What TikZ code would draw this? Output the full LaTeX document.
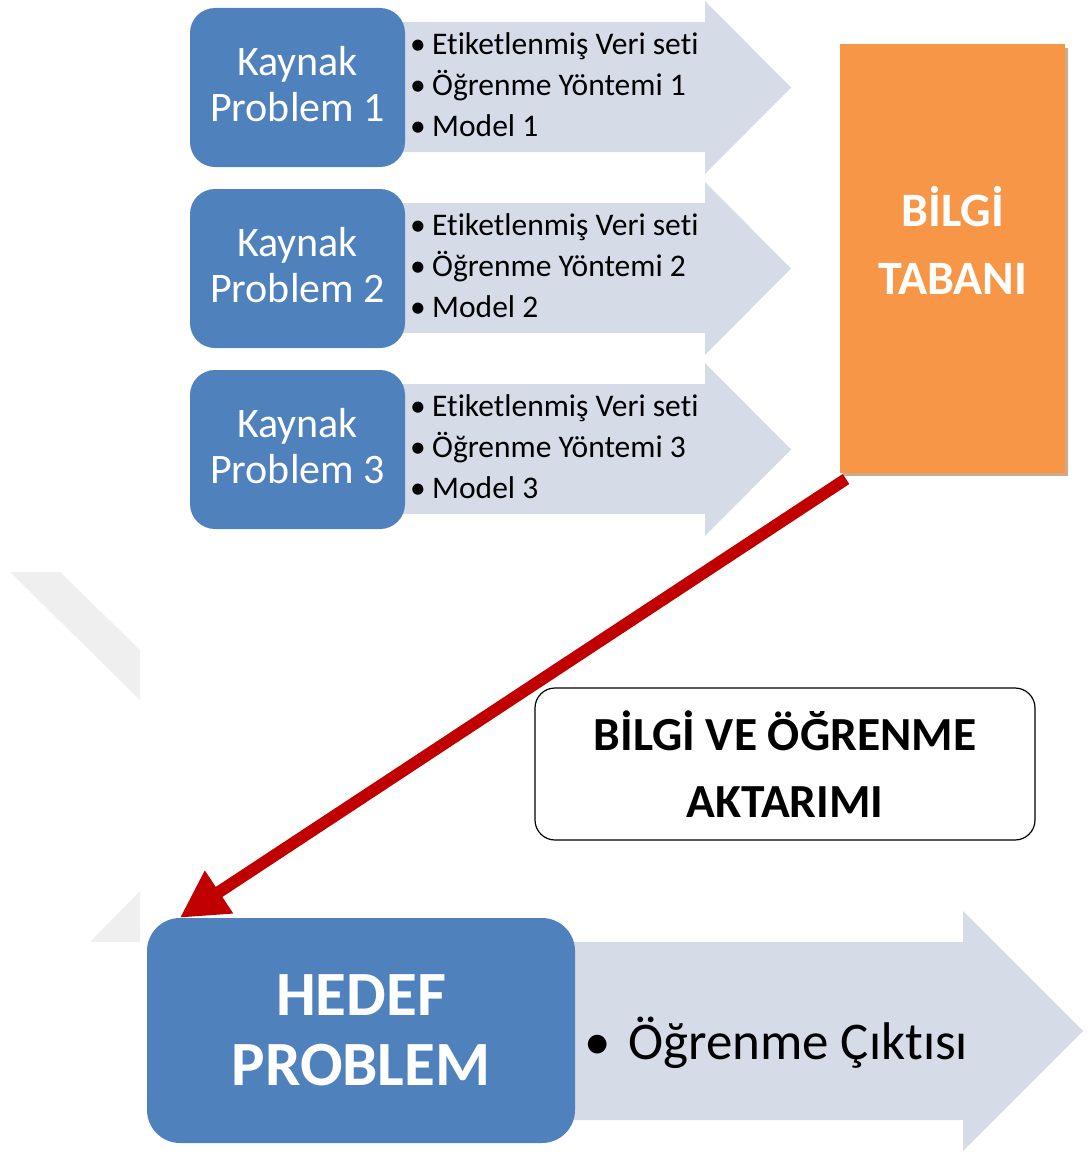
\documentclass[tikz,border=0pt]{standalone}
\usepackage{fontspec}
\setmainfont{Carlito}[Ligatures={NoCommon}]
\usetikzlibrary{arrows.meta,calc}
\definecolor{boxblue}{HTML}{4F81BD}
\definecolor{arrowfill}{HTML}{D5DCE8}
\definecolor{kborange}{HTML}{F79646}
\definecolor{kbshadow}{HTML}{CFAA8A}
\definecolor{tred}{HTML}{C00000}
\definecolor{wmgray}{HTML}{EFEFEF}
\begin{document}
\begin{tikzpicture}[x=1pt,y=-1pt,
  srcbox/.style={fill=boxblue, rounded corners=25pt, minimum width=215pt, minimum height=159pt, inner sep=0pt},
  srctext/.style={inner sep=0pt, text=white, align=center, font=\fontsize{42}{46}\selectfont},
  bullets/.style={anchor=west, inner sep=0pt, align=left, font=\fontsize{31.5}{41}\selectfont},
  flow/.style={fill=arrowfill},
  kbbox/.style={fill=kborange, minimum width=225pt, minimum height=428pt, inner sep=0pt},
  kbtext/.style={text=white, align=center, font=\fontsize{48}{68}\selectfont\bfseries},
  transfer/.style={draw=black, line width=1.2pt, fill=white, rounded corners=20pt, minimum width=500pt, minimum height=152pt, inner sep=0pt, align=center, font=\fontsize{47.5}{67}\selectfont\bfseries},
  target/.style={fill=boxblue, rounded corners=33pt, minimum width=428pt, minimum height=225pt, inner sep=0pt, text=white, align=center, font=\fontsize{63}{70}\selectfont\bfseries},
  redarrow/.style={draw=tred, line width=12pt, -{Triangle[length=47pt,width=48pt]}}
]
\useasboundingbox (0,0) rectangle (1088,1153);
% faint watermark pieces
\fill[wmgray] (10,572) -- (60,572) -- (140,650) -- (140,700) -- cycle;
\fill[wmgray] (90,942) -- (140,942) -- (140,891) -- cycle;

% source rows
\foreach \i/\d in {1/0,2/181,3/362}{
  \fill[flow] (400,22+\d) -- (705,22+\d) -- (705,1+\d) -- (791,87.5+\d) -- (705,174+\d) -- (705,152+\d) -- (400,152+\d) -- cycle;
  \node[srcbox] (k\i) at (297.5,87.5+\d) {};
  \node[srctext] (kt\i) at (297.5,84.5+\d) {Kaynak\\Problem \i};
  \node[bullets] (b\i) at (410,85+\d) {\makebox[22pt][l]{•}Etiketlenmiş Veri seti\\\makebox[22pt][l]{•}Öğrenme Yöntemi \i\\\makebox[22pt][l]{•}Model \i};
}

% knowledge base
\fill[kbshadow] (843,48) rectangle (1068,476);
\node[kbbox] (kb) at (952.5,258.5) {};
\node[kbtext] (kbt) at (952.5,240) {BİLGİ\\TABANI};

% target output arrow
\fill[flow] (570,942) -- (963,942) -- (963,911) -- (1083,1031) -- (963,1151) -- (963,1120) -- (570,1120) -- cycle;
\node[target] (hp) at (361,1030.5) {HEDEF\\PROBLEM};
\node[anchor=west, inner sep=0pt, font=\fontsize{53}{60}\selectfont] (out) at (584,1043) {\makebox[44pt][l]{•}Öğrenme Çıktısı};

% transfer label
\node[transfer] (bv) at (785,764) {BİLGİ VE ÖĞRENME\\AKTARIMI};

% red transfer arrow
\coordinate (rs) at (846,479);
\coordinate (rt) at ($(hp.north west)+(33,0)$);
\draw[redarrow] (rs) -- (rt);
\end{tikzpicture}
\end{document}
